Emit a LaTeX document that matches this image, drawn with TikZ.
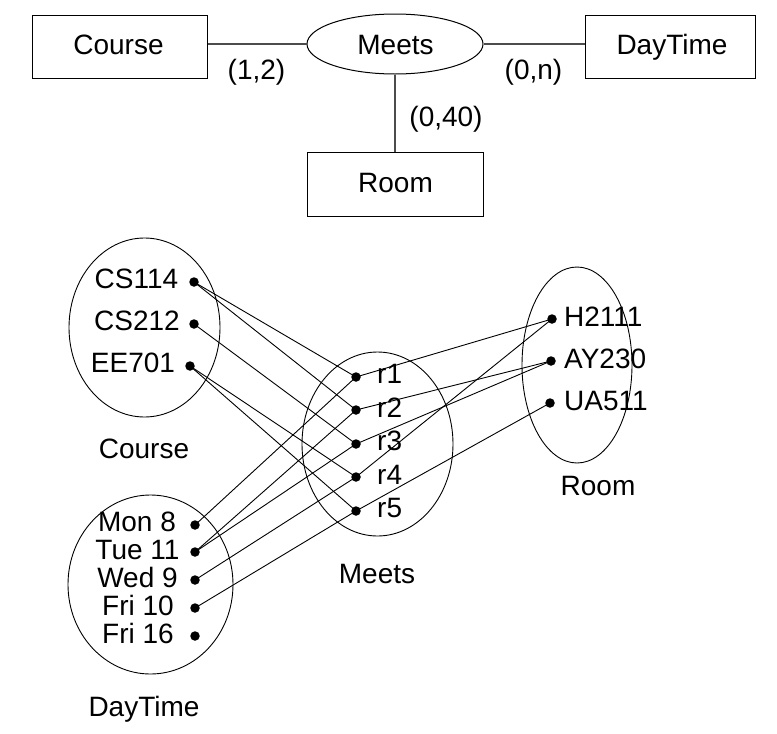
\documentclass[tikz,border=0pt]{standalone}
\usepackage{fontspec}
\setmainfont{Liberation Sans}
\usetikzlibrary{shapes.geometric}
\begin{document}
\begin{tikzpicture}[x=1pt,y=-1pt,
  lbl/.style={font=\fontsize{28}{33}\selectfont, inner sep=0pt},
  entity/.style={draw, rectangle, line width=1pt, inner sep=0pt},
  rel/.style={draw, ellipse, line width=1pt, inner sep=0pt},
  setell/.style={draw, ellipse, line width=0.9pt, inner sep=0pt},
  dot/.style={circle, fill, inner sep=0pt, minimum size=9.5pt},
  link/.style={line width=0.9pt},
  erline/.style={line width=1.1pt, black!70}]
\useasboundingbox (0,0) rectangle (777,734);

% ---------- ER diagram ----------
\node[entity, minimum width=175pt, minimum height=63pt] (courseE) at (119.5,46.5) {};
\node[lbl, anchor=base] (courseET) at (118.5,54) {Course};
\node[rel, minimum width=176pt, minimum height=60pt] (meetsR) at (395,44) {};
\node[lbl, anchor=base] (meetsRT) at (395.5,54.5) {Meets};
\node[entity, minimum width=170pt, minimum height=63pt] (dayE) at (670,46.5) {};
\node[lbl, anchor=base] (dayET) at (672,54.5) {DayTime};
\node[entity, minimum width=176pt, minimum height=64pt] (roomE) at (395,184) {};
\node[lbl, anchor=base] (roomET) at (395.5,192.5) {Room};

\draw[erline] (meetsR.west) -- (meetsR.west -| courseE.east);
\draw[erline] (meetsR.east) -- (meetsR.east -| dayE.west);
\draw[erline] (meetsR.south) -- (meetsR.south |- roomE.north);

\node[lbl, anchor=base] (card1) at (256.5,79) {(1,2)};
\node[lbl, anchor=base] (card2) at (533.5,79) {(0,n)};
\node[lbl, anchor=base] (card3) at (446,126) {(0,40)};

% ---------- instance sets ----------
\node[setell, minimum width=151pt, minimum height=179pt] (courseS) at (144.5,327.5) {};
\node[setell, minimum width=151pt, minimum height=184pt] (meetsS) at (377.5,444) {};
\node[setell, minimum width=110pt, minimum height=196pt] (roomS) at (577,365) {};
\node[setell, minimum width=165pt, minimum height=179pt] (dayS) at (150.5,584.5) {};

\node[lbl, anchor=base] (courseL) at (144,458) {Course};
\node[lbl, anchor=base] (meetsL) at (377,583.5) {Meets};
\node[lbl, anchor=base] (roomL) at (598,495) {Room};
\node[lbl, anchor=base] (dayL) at (144,716) {DayTime};

% course elements
\node[lbl, anchor=base] (c1t) at (136.5,288.5) {CS114};
\node[lbl, anchor=base] (c2t) at (137,330.5) {CS212};
\node[lbl, anchor=base] (c3t) at (133,372.5) {EE701};
\node[dot] (c1) at (194,282) {};
\node[dot] (c2) at (194,324) {};
\node[dot] (c3) at (190,366) {};

% daytime elements
\node[lbl, anchor=base] (d1t) at (137,531.5) {Mon 8};
\node[lbl, anchor=base] (d2t) at (137.5,559.5) {Tue 11};
\node[lbl, anchor=base] (d3t) at (137.5,587.5) {Wed 9};
\node[lbl, anchor=base] (d4t) at (138,615.5) {Fri 10};
\node[lbl, anchor=base] (d5t) at (138,643.5) {Fri 16};
\node[dot] (d1) at (195,525) {};
\node[dot] (d2) at (195,552) {};
\node[dot] (d3) at (195,580) {};
\node[dot] (d4) at (195,608) {};
\node[dot] (d5) at (195,636) {};

% meets elements
\node[lbl, anchor=base west] (r1t) at (377,383.5) {r1};
\node[lbl, anchor=base west] (r2t) at (377,417) {r2};
\node[lbl, anchor=base west] (r3t) at (377,450.5) {r3};
\node[lbl, anchor=base west] (r4t) at (377,484) {r4};
\node[lbl, anchor=base west] (r5t) at (377,517.5) {r5};
\node[dot] (r1) at (356,377) {};
\node[dot] (r2) at (356,410) {};
\node[dot] (r3) at (356,444) {};
\node[dot] (r4) at (356,477) {};
\node[dot] (r5) at (356,511) {};

% room elements
\node[lbl, anchor=base west] (h1t) at (564,326) {H2111};
\node[lbl, anchor=base west] (h2t) at (564,368) {AY230};
\node[lbl, anchor=base west] (h3t) at (564,410) {UA511};
\node[dot] (h1) at (552,319) {};
\node[dot] (h2) at (551,361) {};
\node[dot] (h3) at (550,403) {};

% links
\draw[link] (c1.center) -- (r1.center);
\draw[link] (c1.center) -- (r2.center);
\draw[link] (c2.center) -- (r3.center);
\draw[link] (c3.center) -- (r4.center);
\draw[link] (c3.center) -- (r5.center);
\draw[link] (r1.center) -- (h1.center);
\draw[link] (r2.center) -- (h2.center);
\draw[link] (r3.center) -- (h2.center);
\draw[link] (r4.center) -- (h1.center);
\draw[link] (r5.center) -- (h3.center);
\draw[link] (d1.center) -- (r1.center);
\draw[link] (d2.center) -- (r2.center);
\draw[link] (d2.center) -- (r3.center);
\draw[link] (d3.center) -- (r4.center);
\draw[link] (d4.center) -- (r5.center);
\end{tikzpicture}
\end{document}
